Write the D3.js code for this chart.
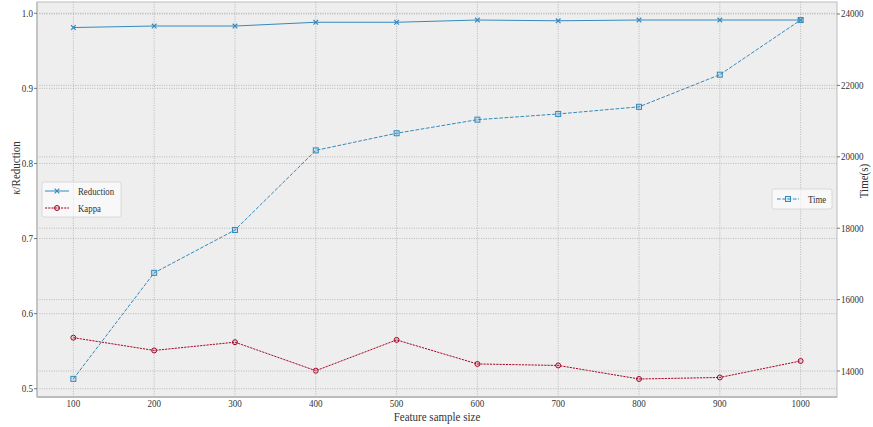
<!DOCTYPE html>
<html><head><meta charset="utf-8">
<script src="https://cdn.jsdelivr.net/npm/d3@7"></script>
<style>body{margin:0;background:#fff}svg{display:block}text{font-family:"Liberation Serif","Times New Roman",serif;fill:#333}</style>
</head><body><svg id="c" width="873" height="427"></svg>
<script>
const sampleSizes = [100,200,300,400,500,600,700,800,900,1000];
const reduction = [0.981,0.983,0.983,0.988,0.988,0.991,0.990,0.991,0.991,0.991];
const kappa = [0.568,0.551,0.562,0.524,0.565,0.533,0.531,0.513,0.515,0.537];
const timeSec = [13780,16750,17950,20180,20660,21040,21200,21400,22300,23830];
const leftTicks = [0.5,0.6,0.7,0.8,0.9,1.0];
const rightTicks = [14000,16000,18000,20000,22000,24000];
const xTicks = [100,200,300,400,500,600,700,800,900,1000];

const W=873,H=427, L=37,R=837,T=2,B=397;
const blue="#348ABD", red="#A60628", gridC="#b2b2b2", edge="#bcbcbc";
const svg=d3.select("#c");
const x=d3.scaleLinear().domain([55,1045]).range([L,R]);
const yL=d3.scaleLinear().domain([0.489,1.015]).range([B,T]);
const yR=d3.scaleLinear().domain([13272,24336]).range([B,T]);

svg.append("rect").attr("x",L).attr("y",T).attr("width",R-L).attr("height",B-T).attr("fill","#eeeeee");

function txt(g,xp,yp,s,size,anchor,rot){
  const gg=g.append("g").attr("transform",`translate(${xp},${yp})${rot?` rotate(${rot})`:""} scale(0.88,1)`);
  gg.append("text").attr("font-size",size).attr("text-anchor",anchor||"start").text(s);
  return gg;
}
const grid=svg.append("g").attr("stroke",gridC).attr("stroke-width",0.9).attr("stroke-dasharray","1,1.4").attr("fill","none");
xTicks.forEach(v=>grid.append("line").attr("x1",x(v)).attr("x2",x(v)).attr("y1",T).attr("y2",B));
leftTicks.forEach(v=>grid.append("line").attr("x1",L).attr("x2",R).attr("y1",yL(v)).attr("y2",yL(v)));

function series(vals,ys,color,dash,marker){
  const g=svg.append("g");
  const line=d3.line().x((d,i)=>x(sampleSizes[i])).y(d=>ys(d));
  g.append("path").attr("d",line(vals)).attr("fill","none").attr("stroke",color).attr("stroke-width",1).attr("stroke-dasharray",dash||null);
  vals.forEach((d,i)=>drawMarker(g,x(sampleSizes[i]),ys(d),color,marker));
}
function drawMarker(g,cx,cy,color,m){
  if(m==="x"){
    g.append("path").attr("d",`M${cx-2.3},${cy-2.3}L${cx+2.3},${cy+2.3}M${cx-2.3},${cy+2.3}L${cx+2.3},${cy-2.3}`).attr("stroke",color).attr("stroke-width",1.2);
  } else if(m==="s"){
    g.append("rect").attr("x",cx-2.5).attr("y",cy-2.5).attr("width",5).attr("height",5).attr("fill","rgba(52,138,189,0.15)").attr("stroke",color).attr("stroke-width",1);
  } else {
    g.append("circle").attr("cx",cx).attr("cy",cy).attr("r",2.5).attr("fill","rgba(166,6,40,0.1)").attr("stroke",color).attr("stroke-width",1);
  }
}
series(reduction,yL,blue,null,"x");
series(kappa,yL,red,"2.2,1","o");

const grid2=svg.append("g").attr("stroke",gridC).attr("stroke-width",0.9).attr("stroke-dasharray","1,1.4");
rightTicks.forEach(v=>grid2.append("line").attr("x1",L).attr("x2",R).attr("y1",yR(v)).attr("y2",yR(v)));
series(timeSec,yR,blue,"3.7,1.6","s");

svg.append("rect").attr("x",L).attr("y",T).attr("width",R-L).attr("height",B-T).attr("fill","none").attr("stroke",edge).attr("stroke-width",1);
svg.append("line").attr("x1",L).attr("x2",R).attr("y1",B).attr("y2",B).attr("stroke",edge).attr("stroke-width",2);
svg.append("line").attr("x1",L).attr("x2",L).attr("y1",T).attr("y2",B).attr("stroke",edge).attr("stroke-width",1.5);

const ax=svg.append("g");
leftTicks.forEach(v=>{ax.append("line").attr("x1",L-3).attr("x2",L).attr("y1",yL(v)).attr("y2",yL(v)).attr("stroke","#555").attr("stroke-width",0.8);
  txt(ax,L-4,yL(v)+3.5,d3.format(".1f")(v),10.3,"end");});
rightTicks.forEach(v=>{ax.append("line").attr("x1",R).attr("x2",R+3).attr("y1",yR(v)).attr("y2",yR(v)).attr("stroke","#555").attr("stroke-width",0.8);
  txt(ax,R+4,yR(v)+3.5,String(v),10.3,"start");});
xTicks.forEach(v=>txt(ax,x(v),407,String(v),10.3,"middle"));
txt(ax,(L+R)/2,421,"Feature sample size",12.5,"middle");
const yl=txt(ax,20,168,"",12.5,"middle",-90);
const ylt=yl.select("text"); ylt.append("tspan").attr("font-style","italic").text("κ"); ylt.append("tspan").text("/Reduction");
txt(ax,868,181,"Time(s)",12.5,"middle",-90);

const lg=svg.append("g");
lg.append("rect").attr("x",42).attr("y",182).attr("width",79).attr("height",35).attr("rx",2).attr("fill","rgba(255,255,255,0.6)").attr("stroke","#d0d0d0").attr("stroke-width",0.8);
const leg1=[["Reduction",blue,null,"x",191],["Kappa",red,"2.2,1","o",208]];
leg1.forEach(([n,c,d,m,yy])=>{lg.append("line").attr("x1",45).attr("x2",69).attr("y1",yy).attr("y2",yy).attr("stroke",c).attr("stroke-width",1).attr("stroke-dasharray",d);
  drawMarker(lg,57,yy,c,m); txt(lg,78,yy+3.5,n,10,"start");});
lg.append("rect").attr("x",772).attr("y",189).attr("width",60).attr("height",20).attr("rx",2).attr("fill","rgba(255,255,255,0.6)").attr("stroke","#d0d0d0").attr("stroke-width",0.8);
lg.append("line").attr("x1",777).attr("x2",799).attr("y1",199).attr("y2",199).attr("stroke",blue).attr("stroke-width",1).attr("stroke-dasharray","3.7,1.6");
drawMarker(lg,788,199,blue,"s"); txt(lg,808,202.5,"Time",10,"start");
</script></body></html>
